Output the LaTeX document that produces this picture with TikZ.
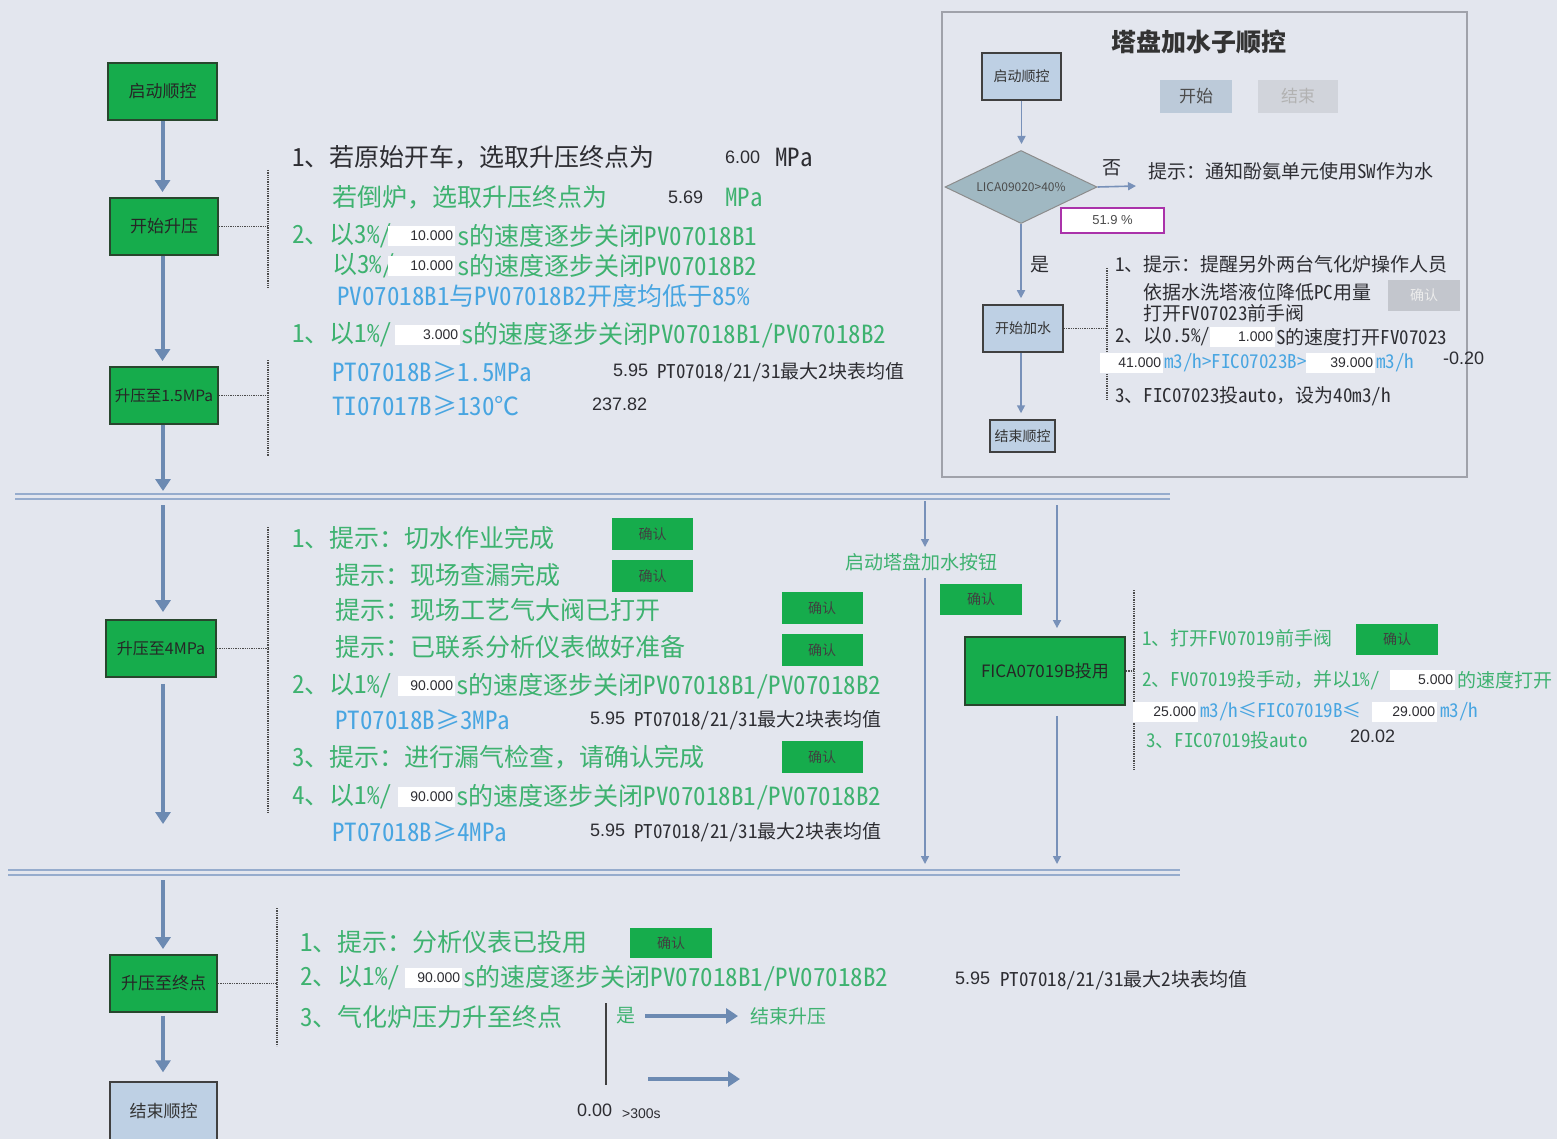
\documentclass[tikz,border=0pt]{standalone}
\usepackage{fontspec}
\setmainfont[RawFeature=+hwid]{Noto Sans CJK SC}
\newfontfamily\boxf{Noto Sans CJK SC}
\newfontfamily\numf{Liberation Sans}
\newcommand\fwcomma{{\boxf ，}}
\usetikzlibrary{arrows.meta,shapes.geometric}
\definecolor{bg}{RGB}{227,230,238}
\definecolor{gfill}{RGB}{22,172,76}
\definecolor{gborder}{RGB}{40,70,45}
\definecolor{flow}{RGB}{108,138,178}
\definecolor{flowthin}{RGB}{120,145,185}
\definecolor{dblc}{RGB}{150,172,205}
\definecolor{gtxt}{RGB}{62,178,112}
\definecolor{btxt}{RGB}{72,165,225}
\definecolor{dtxt}{RGB}{45,45,50}
\definecolor{lbfill}{RGB}{190,208,228}
\definecolor{diafill}{RGB}{160,184,194}
\definecolor{mag}{RGB}{170,50,170}
\definecolor{panelc}{RGB}{160,162,170}
\tikzset{
  flowarrow/.style={draw=flow, line width=4pt, -{Triangle[width=15pt,length=12pt]}},
  thinarrow/.style={draw=flowthin, line width=1.6pt, -{Triangle[width=8pt,length=8pt]}},
  dblline/.style={draw=dblc, line width=2pt},
  gbox/.style={draw=gborder, line width=1.8pt, fill=gfill, inner sep=0pt, text=black!85, font=\boxf\fontsize{17}{17}\selectfont},
  lbbox/.style={draw=black!75, line width=1.5pt, fill=lbfill, inner sep=0pt, text=black!80, font=\boxf\fontsize{14}{14}\selectfont},
  okbtn/.style={fill=gfill, minimum width=81, minimum height=32, inner sep=0pt, text=black!75, font=\boxf\fontsize{14}{14}\selectfont},
  bracket/.style={draw=black!70, line width=1.3pt, densely dotted},
  tx/.style={anchor=west, inner sep=0pt},
  big/.style={font=\fontsize{25}{25}\selectfont},
  mid/.style={font=\fontsize{19}{19}\selectfont},
  num/.style={font=\numf\fontsize{18}{18}\selectfont, text=dtxt},
  gt/.style={text=gtxt}, bt/.style={text=btxt}, dt/.style={text=dtxt},
  numbox/.style={fill=white, inner xsep=2pt, inner ysep=0pt, minimum height=20, text width=#1, align=right, anchor=west, text=dtxt, font=\numf\fontsize{14}{14}\selectfont},
}
\begin{document}
\begin{tikzpicture}[x=1pt,y=-1pt]
\fill[bg] (0,0) rectangle (1557,1139);
\useasboundingbox (0,0) rectangle (1557,1139);

% double separator lines
\draw[dblline] (15,494) -- (1170,494);
\draw[dblline] (15,499) -- (1170,499);
\draw[dblline] (8,870) -- (1180,870);
\draw[dblline] (8,875) -- (1180,875);

% left column boxes
\node[gbox, minimum width=109, minimum height=57] (n1) at (162.5,91.5) {启动顺控};
\node[gbox, minimum width=108, minimum height=57] (n2) at (164,226.5) {开始升压};
\node[gbox, minimum width=108, minimum height=57, font=\boxf\fontsize{15.5}{16}\selectfont] (n3) at (164,395.5) {升压至1.5MPa};
\node[gbox, minimum width=110, minimum height=57, font=\boxf\fontsize{16}{16}\selectfont] (n4) at (161,648.5) {升压至4MPa};
\node[gbox, minimum width=107, minimum height=57] (n5) at (163.5,983.5) {升压至终点};
\node[lbbox, minimum width=107, minimum height=58, font=\boxf\fontsize{17}{17}\selectfont] (n6) at (163.5,1111) {结束顺控};

\coordinate (c3) at (163,491);
\coordinate (c4) at (163,505);
\coordinate (c5) at (163,824);
\coordinate (c6) at (163,880);
\draw[flowarrow, shorten >=5pt] (n1.south) -- (n1.south |- n2.north);
\draw[flowarrow, shorten >=5pt] (n2.south -| n1.south) -- (n1.south |- n3.north);
\draw[flowarrow] (n3.south -| c3) -- (c3);
\draw[flowarrow, shorten >=7pt] (c4) -- (c4 |- n4.north);
\draw[flowarrow, shorten <=6pt] (c4 |- n4.south) -- (c5);
\draw[flowarrow, shorten >=5pt] (c6) -- (c6 |- n5.north);
\draw[flowarrow, shorten >=9pt, shorten <=3pt] (c6 |- n5.south) -- (c6 |- n6.north);

% brackets
\draw[bracket] (n2.east) -- (268,226.5);
\draw[bracket] (268,170) -- (268,288);
\draw[bracket] (n3.east) -- (268,395.5);
\draw[bracket] (268,360) -- (268,456);
\draw[bracket] (n4.east) -- (268,648.5);
\draw[bracket] (268,527) -- (268,813);
\draw[bracket] (n5.east) -- (277,983.5);
\draw[bracket] (277,908) -- (277,1046);

% ---------- section 1 text
\node[tx,big,dt] at (292,157) {1、若原始开车\fwcomma 选取升压终点为};
\node[tx,num] at (725,157) {6.00};
\node[tx,big,dt] at (775,157) {MPa};
\node[tx,big,gt] at (332,197) {若倒炉\fwcomma 选取升压终点为};
\node[tx,num] at (668,197) {5.69};
\node[tx,big,gt] at (725,197) {MPa};
\node[tx,big,gt] at (292,236) {2、以3\%/};
\node[numbox=63] at (388,236) {10.000};
\node[tx,big,gt] at (457,236) {s的速度逐步关闭PV07018B1};
\node[tx,big,gt] at (332,266) {以3\%/};
\node[numbox=63] at (388,266) {10.000};
\node[tx,big,gt] at (457,266) {s的速度逐步关闭PV07018B2};
\node[tx,big,bt] at (337,296) {PV07018B1与PV07018B2开度均低于85\%};
\node[tx,big,gt] at (292,335) {1、以1\%/};
\node[numbox=61] at (395,335) {3.000};
\node[tx,big,gt] at (461,335) {s的速度逐步关闭PV07018B1/PV07018B2};
\node[tx,big,bt] at (332,372) {PT07018B≥1.5MPa};
\node[tx,num] at (613,370) {5.95};
\node[tx,mid,dt] at (657,372) {PT07018/21/31最大2块表均值};
\node[tx,big,bt] at (332,406) {TI07017B≥130℃};
\node[tx,num] at (592,404) {237.82};

% ---------- section 2 text
\node[tx,big,gt] at (292,538) {1、提示：切水作业完成};
\node[okbtn] (k1) at (652.5,534) {确认};
\node[tx,big,gt] at (335,575) {提示：现场查漏完成};
\node[okbtn] (k2) at (652.5,576) {确认};
\node[tx,big,gt] at (335,610) {提示：现场工艺气大阀已打开};
\node[okbtn] (k3) at (822,608) {确认};
\node[tx,big,gt] at (335,647) {提示：已联系分析仪表做好准备};
\node[okbtn] (k4) at (822,650) {确认};
\node[tx,big,gt] at (292,686) {2、以1\%/};
\node[numbox=53] at (398,686) {90.000};
\node[tx,big,gt] at (456,686) {s的速度逐步关闭PV07018B1/PV07018B2};
\node[tx,big,bt] at (335,720) {PT07018B≥3MPa};
\node[tx,num] at (590,718) {5.95};
\node[tx,mid,dt] at (634,720) {PT07018/21/31最大2块表均值};
\node[tx,big,gt] at (292,757) {3、提示：进行漏气检查\fwcomma 请确认完成};
\node[okbtn] (k5) at (822,757) {确认};
\node[tx,big,gt] at (292,797) {4、以1\%/};
\node[numbox=53] at (398,797) {90.000};
\node[tx,big,gt] at (456,797) {s的速度逐步关闭PV07018B1/PV07018B2};
\node[tx,big,bt] at (332,832) {PT07018B≥4MPa};
\node[tx,num] at (590,830) {5.95};
\node[tx,mid,dt] at (634,832) {PT07018/21/31最大2块表均值};

% ---------- middle branch
\coordinate (m1a) at (925,501);
\coordinate (m1b) at (925,547);
\coordinate (m1c) at (925,578);
\coordinate (m1d) at (925,864);
\draw[thinarrow] (m1a) -- (m1b);
\node[mid,gt,inner sep=0pt] (qd) at (921,562) {启动塔盘加水按钮};
\draw[thinarrow] (m1c) -- (m1d);
\node[okbtn, minimum width=82, minimum height=31] (k6) at (981,599.5) {确认};
\node[gbox, minimum width=160, minimum height=68] (fica) at (1045,671) {FICA07019B投用};
\coordinate (m2a) at (1057,505);
\coordinate (m2d) at (1057,864);
\draw[thinarrow, shorten >=8pt] (m2a) -- (m2a |- fica.north);
\draw[thinarrow, shorten <=10pt] (m2a |- fica.south) -- (m2d);
\draw[bracket] (fica.east) -- (1134,671);
\draw[bracket] (1134,590) -- (1134,770);
\node[tx,mid,gt] at (1142,638) {1、打开FV07019前手阀};
\node[okbtn, minimum width=82, minimum height=31] (k7) at (1397,639.5) {确认};
\node[tx,mid,gt] at (1142,680) {2、FV07019投手动\fwcomma 并以1\%/};
\node[numbox=61] at (1390,680) {5.000};
\node[tx,mid,gt] at (1457,680) {的速度打开};
\node[numbox=61] at (1133,712) {25.000};
\node[tx,mid,bt] at (1200,712) {m3/h≤FIC07019B≤};
\node[numbox=61] at (1372,712) {29.000};
\node[tx,mid,bt] at (1440,712) {m3/h};
\node[tx,mid,gt] at (1146,740) {3、FIC07019投auto};
\node[tx,num] at (1350,736) {20.02};

% ---------- sub sequence panel
\draw[draw=panelc, line width=1.5pt] (942,12) rectangle (1467,477);
\node[font=\boxf\bfseries\fontsize{25}{25}\selectfont, text=black!80, inner sep=0pt] (title) at (1199,42) {塔盘加水子顺控};
\node[lbbox, minimum width=79, minimum height=47] (sp1) at (1021.5,76.5) {启动顺控};
\node[fill=lbfill!85!gray!90, minimum width=72, minimum height=33, inner sep=0pt, text=black!70, font=\boxf\fontsize{17}{17}\selectfont] (ks) at (1196,96.5) {开始};
\node[fill=black!8!bg, minimum width=80, minimum height=33, inner sep=0pt, text=black!30, font=\boxf\fontsize{17}{17}\selectfont] (js) at (1298,96.5) {结束};
\node[diamond, aspect=2.08, draw=black!45, line width=1pt, fill=diafill, minimum width=152, minimum height=73, inner sep=0pt, text=black!70, font=\boxf\fontsize{12}{12}\selectfont] (dia) at (1021,187) {LICA09020>40\%};
\draw[thinarrow, shorten >=6pt] (sp1.south) -- (sp1.south |- dia.north);
\coordinate (noend) at (1136,186);
\draw[thinarrow] (dia.east) -- (noend);
\node[mid,dt,inner sep=0pt] (fou) at (1112,168) {否};
\node[tx,mid,dt] at (1148,171) {提示：通知酚氨单元使用SW作为水};
\node[draw=mag, line width=1.5pt, fill=white, minimum width=103, minimum height=25, inner sep=0pt, text=black!70, font=\numf\fontsize{13}{13}\selectfont] (pct) at (1112.5,220.5) {51.9 \%};
\node[lbbox, minimum width=80, minimum height=47] (sp3) at (1023,328.5) {开始加水};
\draw[thinarrow, shorten >=6pt] (dia.south) -- (dia.south |- sp3.north);
\node[mid,dt,inner sep=0pt] (shi1) at (1040,265) {是};
\node[lbbox, minimum width=65, minimum height=32] (sp4) at (1022.5,436) {结束顺控};
\draw[thinarrow, shorten >=6pt] (sp3.south -| dia.south) -- (dia.south |- sp4.north);
\draw[bracket] (sp3.east) -- (1107,328.5);
\draw[bracket] (1107,268) -- (1107,400);
\node[tx,mid,dt] at (1115,264) {1、提示：提醒另外两台气化炉操作人员};
\node[tx,mid,dt] at (1143,292) {依据水洗塔液位降低PC用量};
\node[tx,mid,dt] at (1143,313) {打开FV07023前手阀};
\node[fill=black!14!bg, minimum width=72, minimum height=31, inner sep=0pt, text=white!85!gray, font=\boxf\fontsize{14}{14}\selectfont] (k8) at (1424,295.5) {确认};
\node[tx,mid,dt] at (1115,337) {2、以0.5\%/};
\node[numbox=61] at (1210,337) {1.000};
\node[tx,mid,dt] at (1276,337) {S的速度打开FV07023};
\node[numbox=59] at (1100,363) {41.000};
\node[tx,mid,bt] at (1164,363) {m3/h>FIC07023B>};
\node[numbox=65] at (1306,363) {39.000};
\node[tx,mid,bt] at (1376,363) {m3/h};
\node[tx,num] at (1443,358) {-0.20};
\node[tx,mid,dt] at (1115,396) {3、FIC07023投auto\fwcomma 设为40m3/h};

% ---------- bottom section
\node[tx,big,gt] at (300,942) {1、提示：分析仪表已投用};
\node[okbtn, minimum width=82, minimum height=30] (k9) at (671,943) {确认};
\node[tx,big,gt] at (300,978) {2、以1\%/};
\node[numbox=53] at (405,978) {90.000};
\node[tx,big,gt] at (463,978) {s的速度逐步关闭PV07018B1/PV07018B2};
\node[tx,num] at (955,978) {5.95};
\node[tx,mid,dt] at (1000,980) {PT07018/21/31最大2块表均值};
\node[tx,big,gt] at (300,1017) {3、气化炉压力升至终点};
\coordinate (v1) at (606,1003);
\coordinate (v2) at (606,1085);
\draw[draw=black!75, line width=1.8pt] (v1) -- (v2);
\node[tx,mid,gt] (shi) at (616,1016) {是};
\node[tx,mid,gt] (jsy) at (750,1016) {结束升压};
\draw[flowarrow, shorten <=10pt, shorten >=12pt] (shi.east) -- (jsy.west);
\coordinate (a1) at (648,1079);
\coordinate (a2) at (740,1079);
\draw[flowarrow] (a1) -- (a2);
\node[tx,num] at (577,1110) {0.00};
\node[tx,dt,font=\numf\fontsize{14}{14}\selectfont] at (622,1114) {>300s};
\end{tikzpicture}
\end{document}
